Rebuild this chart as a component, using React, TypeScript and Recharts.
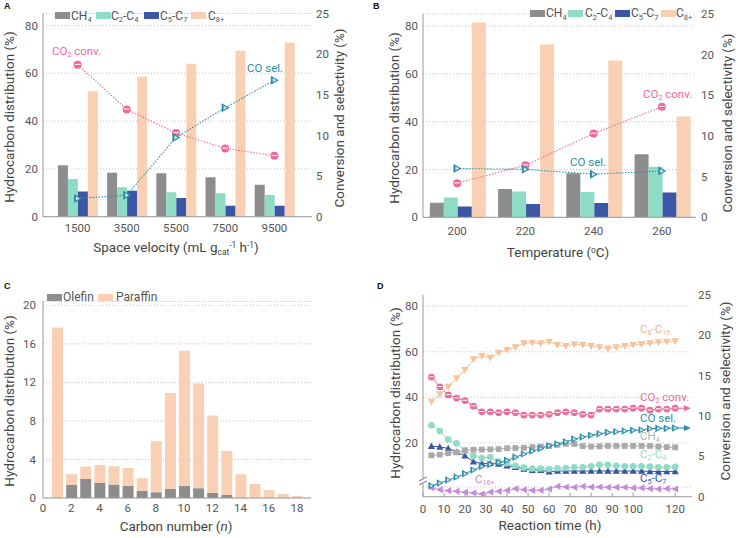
import React from "react";
import {
  ComposedChart,
  BarChart,
  Bar,
  Line,
  XAxis,
  YAxis,
  CartesianGrid,
  ReferenceLine,
} from "recharts";

const FONT = "Roboto, 'Noto Sans', Arial, sans-serif";
const TXT = "#555";
const TITLE = "#444";
const AXIS = "#9a9a9a";
const GRID = "#c4c4c4";

const GRAY = "#8d8d8d";
const MINT = "#8fdcc6";
const BLUE = "#3a56a5";
const PEACH = "#f9d0b3";
const PINK = "#ef6a9b";
const TEAL = "#2d8fa7";
const LIGHTGRAY = "#a9a9a9";
const PEACH_D = "#f8c29a";
const LILAC = "#c68ad9";

// A: space velocity
const svCats = ["1500", "3500", "5500", "7500", "9500"];
const svCH4 = [21.5, 18.4, 18.2, 16.5, 13.4];
const svC2C4 = [15.8, 12.3, 10.2, 9.8, 9.1];
const svC5C7 = [10.5, 10.9, 7.8, 4.6, 4.6];
const svC8 = [52.5, 58.5, 64.0, 69.4, 72.9];
const svConv = [18.7, 13.2, 10.3, 8.4, 7.5];
const svSel = [2.25, 2.65, 9.75, 13.4, 16.8];

// B: temperature
const tempCats = ["200", "220", "240", "260"];
const tempCH4 = [6.1, 11.8, 18.4, 26.4];
const tempC2C4 = [8.3, 10.8, 10.6, 21.1];
const tempC5C7 = [4.5, 5.6, 6.0, 10.4];
const tempC8 = [81.4, 72.2, 65.6, 42.1];
const tempConv = [4.2, 6.4, 10.3, 13.6];
const tempSel = [6.0, 5.9, 5.3, 5.7];

// C: carbon number distribution
const cN = [1, 2, 3, 4, 5, 6, 7, 8, 9, 10, 11, 12, 13, 14, 15, 16, 17, 18];
const cOlefin = [0, 1.35, 1.98, 1.56, 1.39, 1.25, 0.76, 0.6, 0.97, 1.25, 1.0, 0.52, 0.31, 0.05, 0, 0, 0, 0];
const cParaffin = [17.7, 1.11, 1.28, 1.87, 1.9, 1.87, 1.29, 5.3, 9.93, 14.05, 10.9, 8.04, 4.58, 2.41, 1.46, 0.83, 0.42, 0.2];
const cTicks = [0, 2, 4, 6, 8, 10, 12, 14, 16, 18];

// D: time on stream
const dTime = [4, 8, 12, 16, 20, 24, 28, 32, 36, 40, 44, 48, 52, 56, 60, 64, 68, 72, 76, 80, 84, 88, 92, 96, 100, 104, 108, 112, 116, 120];
const dConv = [14.8, 13.6, 12.6, 12.2, 11.9, 11.2, 10.5, 10.5, 10.4, 10.5, 10.4, 10.1, 10.1, 10.1, 10.2, 10.4, 10.5, 10.4, 10.2, 10.1, 10.85, 10.85, 10.85, 10.85, 10.95, 10.95, 10.7, 10.85, 10.85, 10.95];
const dSel = [1.35, 1.7, 2.06, 2.43, 2.85, 3.3, 3.75, 4.0, 4.25, 4.5, 4.9, 5.28, 5.65, 5.98, 6.3, 6.52, 6.8, 7.14, 7.38, 7.6, 7.8, 7.96, 8.04, 8.13, 8.21, 8.25, 8.42, 8.46, 8.46, 8.5];
const dC8C16 = [38.1, 41.4, 44.7, 48.4, 52.0, 56.7, 58.2, 57.4, 59.6, 60.8, 62.0, 63.7, 64.0, 63.7, 64.4, 63.0, 62.5, 63.3, 63.0, 62.5, 62.0, 61.4, 62.0, 62.5, 63.0, 63.4, 63.7, 64.2, 64.4, 64.7];
const dCH4 = [14.6, 14.9, 15.5, 15.9, 16.7, 17.0, 17.1, 17.2, 17.3, 17.7, 17.8, 17.9, 18.2, 18.4, 18.7, 19.2, 19.6, 19.6, 18.6, 18.4, 18.5, 18.7, 18.7, 18.7, 18.7, 18.7, 18.7, 18.4, 18.2, 18.1];
const dC2C4 = [27.8, 25.2, 21.5, 19.8, 16.8, 14.3, 13.4, 13.8, 11.8, 11.1, 10.0, 9.2, 8.8, 8.8, 8.6, 8.9, 9.0, 9.3, 9.3, 9.8, 10.4, 10.4, 10.0, 9.8, 9.8, 9.8, 9.6, 9.3, 9.3, 9.5];
const dC5C7 = [18.6, 18.3, 17.6, 16.0, 14.4, 11.8, 11.0, 11.0, 10.8, 10.1, 9.4, 8.6, 8.1, 8.1, 7.4, 7.7, 7.7, 7.7, 7.7, 7.7, 7.7, 7.7, 7.7, 7.7, 7.7, 7.7, 7.5, 7.5, 7.5, 7.5];
const dC16 = [0.9, 0.72, 0.62, 0.55, 0.45, 0.38, 0.28, 0.48, 0.55, 0.66, 0.83, 0.72, 0.66, 0.66, 0.79, 1.07, 1.0, 0.97, 1.07, 1.0, 1.0, 0.97, 0.97, 0.97, 0.9, 0.9, 0.83, 0.79, 0.83, 0.79];
const dTimeTicks = [0, 10, 20, 30, 40, 50, 60, 70, 80, 90, 100, 110, 120];
const dLeftVals = [0, 1, 20, 40, 60, 80];
const dGridVals = [1, 20, 40, 60, 80];
const rightTicks = [0, 5, 10, 15, 20, 25];

// broken left axis of D, mapped onto the 0-25 right-axis units
const D_BREAK = 1.95;
const tLeft = (v: number) => (v <= 1.5 ? v * 1.2 : 6.65 + (v - 20) * 0.282);

const tickStyle = { fill: TXT, fontSize: 11.5, fontFamily: FONT };

const convDot = (r: number) => (p: any) => {
  const { cx, cy, index } = p;
  if (cx == null || cy == null) return <g key={`cv${index}`} />;
  return (
    <g key={`cv${index}`}>
      <circle cx={cx} cy={cy} r={r} fill={PINK} />
      <line x1={cx - r * 0.7} x2={cx + r * 0.7} y1={cy - 0.3} y2={cy - 0.3} stroke="#fff" strokeWidth={1} />
    </g>
  );
};

const selDot = (r: number) => (p: any) => {
  const { cx, cy, index } = p;
  if (cx == null || cy == null) return <g key={`sl${index}`} />;
  const k = 0.45;
  return (
    <g key={`sl${index}`}>
      <polygon points={`${cx + r},${cy} ${cx - r * 0.8},${cy - r} ${cx - r * 0.8},${cy + r}`} fill={TEAL} />
      <polygon points={`${cx + r * k},${cy} ${cx - r * 0.8 * k},${cy - r * k} ${cx - r * 0.8 * k},${cy + r * k}`} fill="#cfe8ee" />
    </g>
  );
};

const shapeDot = (kind: string, color: string, r: number) => (p: any) => {
  const { cx, cy, index } = p;
  const key = `${kind}${color}${index}`;
  if (cx == null || cy == null) return <g key={key} />;
  if (kind === "circle") return <circle key={key} cx={cx} cy={cy} r={r} fill={color} />;
  if (kind === "square") return <rect key={key} x={cx - r} y={cy - r} width={r * 2} height={r * 2} fill={color} />;
  let pts = "";
  if (kind === "up") pts = `${cx},${cy - r} ${cx + r},${cy + r * 0.8} ${cx - r},${cy + r * 0.8}`;
  if (kind === "down") pts = `${cx},${cy + r} ${cx + r},${cy - r * 0.8} ${cx - r},${cy - r * 0.8}`;
  if (kind === "left") pts = `${cx - r},${cy} ${cx + r * 0.8},${cy - r} ${cx + r * 0.8},${cy + r}`;
  return <polygon key={key} points={pts} fill={color} />;
};

const arrowShape = (color: string) => (p: any) => {
  const { x1, y1, x2, y2 } = p;
  return (
    <g>
      <line x1={x1} y1={y1} x2={x2 - 4} y2={y2} stroke={color} strokeWidth={1.1} />
      <polygon points={`${x2},${y2} ${x2 - 7},${y2 - 3} ${x2 - 7},${y2 + 3}`} fill={color} />
    </g>
  );
};

function DLeftTick(props: any) {
  const { x, y, payload } = props;
  if (Math.abs(payload.value - D_BREAK) < 1e-6) {
    const ax = x + 5;
    return (
      <g>
        <rect x={ax - 3} y={y - 2.5} width={6} height={5} fill="#fff" />
        <line x1={ax - 4} y1={y} x2={ax + 4} y2={y - 4} stroke="#777" strokeWidth={1} />
        <line x1={ax - 4} y1={y + 4} x2={ax + 4} y2={y} stroke="#777" strokeWidth={1} />
      </g>
    );
  }
  const i = dLeftVals.findIndex((v) => Math.abs(tLeft(v) - payload.value) < 1e-6);
  return (
    <text x={x} y={y} dy="0.35em" textAnchor="end" fill={TXT} fontSize={11.5} fontFamily={FONT}>
      {i >= 0 ? dLeftVals[i] : ""}
    </text>
  );
}

function ProductChart(props: {
  rows: any[];
  width: number;
  height: number;
  top: number;
  bottom: number;
  leftW: number;
  rightW: number;
  pad: { left: number; right: number };
  xMargin: number;
  rMargin: number;
  leftMax: number;
}) {
  const { rows, width, height, top, bottom, leftW, rightW, pad, xMargin, rMargin, leftMax } = props;
  return (
    <ComposedChart
      width={width}
      height={height}
      data={rows}
      margin={{ top, right: 0, bottom: bottom - 30, left: 0 }}
      barGap={0}
      barCategoryGap="10%"
    >
      <CartesianGrid yAxisId="l" vertical={false} stroke={GRID} strokeDasharray="1 2" />
      <XAxis
        dataKey="cat"
        height={30}
        padding={pad}
        axisLine={{ stroke: AXIS }}
        tickLine={false}
        tickSize={0}
        tickMargin={xMargin}
        tick={tickStyle}
      />
      <YAxis
        yAxisId="l"
        domain={[0, leftMax]}
        allowDataOverflow
        ticks={[0, 20, 40, 60, 80]}
        width={leftW}
        axisLine={{ stroke: AXIS }}
        tickLine={false}
        tickSize={0}
        tickMargin={5}
        tick={tickStyle}
      />
      <YAxis
        yAxisId="r"
        orientation="right"
        domain={[0, 25]}
        allowDataOverflow
        ticks={rightTicks}
        width={rightW}
        axisLine={false}
        tickLine={false}
        tickSize={0}
        tickMargin={rMargin}
        tick={tickStyle}
      />
      <Bar yAxisId="l" dataKey="ch4" fill={GRAY} isAnimationActive={false} />
      <Bar yAxisId="l" dataKey="c24" fill={MINT} isAnimationActive={false} />
      <Bar yAxisId="l" dataKey="c57" fill={BLUE} isAnimationActive={false} />
      <Bar yAxisId="l" dataKey="c8" fill={PEACH} isAnimationActive={false} />
      <Line
        yAxisId="r"
        dataKey="conv"
        stroke={PINK}
        strokeWidth={1.1}
        strokeDasharray="1.5 1.5"
        dot={convDot(4)}
        activeDot={false}
        isAnimationActive={false}
      />
      <Line
        yAxisId="r"
        dataKey="sel"
        stroke={TEAL}
        strokeWidth={1.1}
        strokeDasharray="1.5 1.5"
        dot={selDot(4.5)}
        activeDot={false}
        isAnimationActive={false}
      />
    </ComposedChart>
  );
}

function ChartC() {
  const rows = cN.map((n, i) => ({ n, ole: cOlefin[i], par: cParaffin[i] }));
  return (
    <BarChart width={369} height={270} data={rows} margin={{ top: 33.5, right: 58, bottom: 15, left: 0 }}>
      <CartesianGrid vertical={false} stroke={GRID} strokeDasharray="1 2" />
      <XAxis
        type="number"
        dataKey="n"
        domain={[0, 19]}
        allowDataOverflow
        ticks={cTicks}
        height={25}
        axisLine={{ stroke: AXIS }}
        tickLine={false}
        tickSize={0}
        tickMargin={6}
        tick={tickStyle}
      />
      <YAxis
        domain={[0, 20.4]}
        allowDataOverflow
        ticks={[0, 4, 8, 12, 16, 20]}
        width={43}
        axisLine={{ stroke: AXIS }}
        tickLine={false}
        tickSize={0}
        tickMargin={7}
        tick={tickStyle}
      />
      <Bar dataKey="ole" stackId="a" fill={GRAY} barSize={11} isAnimationActive={false} />
      <Bar dataKey="par" stackId="a" fill={PEACH} barSize={11} isAnimationActive={false} />
    </BarChart>
  );
}

function ChartD() {
  const rows = dTime.map((t, i) => ({
    t,
    c8: tLeft(dC8C16[i]),
    ch4: tLeft(dCH4[i]),
    c24: tLeft(dC2C4[i]),
    c57: tLeft(dC5C7[i]),
    c16: tLeft(dC16[i]),
    conv: dConv[i],
    sel: dSel[i],
  }));
  const last = dTime.length - 1;
  const leftTicks = [...dLeftVals.map(tLeft), D_BREAK].sort((a, b) => a - b);
  return (
    <ComposedChart width={370} height={270} data={rows} margin={{ top: 26.7, right: 0, bottom: 16.3, left: 0 }}>
      {dGridVals.map((v) => (
        <ReferenceLine key={v} yAxisId="l" y={tLeft(v)} stroke={GRID} strokeDasharray="1 2" />
      ))}
      <XAxis
        type="number"
        dataKey="t"
        domain={[0, 128]}
        allowDataOverflow
        ticks={dTimeTicks}
        height={25}
        axisLine={{ stroke: AXIS }}
        tickLine={{ stroke: AXIS }}
        tickSize={-4}
        tickMargin={12}
        tick={tickStyle}
      />
      <YAxis
        yAxisId="l"
        domain={[0, 25]}
        allowDataOverflow
        ticks={leftTicks}
        width={55}
        axisLine={{ stroke: AXIS }}
        tickLine={false}
        tickSize={0}
        tickMargin={5}
        tick={(p: any) => <DLeftTick {...p} />}
      />
      <YAxis
        yAxisId="r"
        orientation="right"
        domain={[0, 25]}
        allowDataOverflow
        ticks={rightTicks}
        width={46}
        axisLine={false}
        tickLine={false}
        tickSize={0}
        tickMargin={6}
        tick={tickStyle}
      />
      <Line yAxisId="l" dataKey="c16" stroke={LILAC} strokeWidth={1} dot={shapeDot("left", LILAC, 3.6)} activeDot={false} isAnimationActive={false} />
      <Line yAxisId="l" dataKey="c57" stroke={BLUE} strokeWidth={1} dot={shapeDot("up", BLUE, 3.6)} activeDot={false} isAnimationActive={false} />
      <Line yAxisId="l" dataKey="c24" stroke={MINT} strokeWidth={1} dot={shapeDot("circle", MINT, 3.3)} activeDot={false} isAnimationActive={false} />
      <Line yAxisId="l" dataKey="ch4" stroke={LIGHTGRAY} strokeWidth={1} dot={shapeDot("square", LIGHTGRAY, 2.9)} activeDot={false} isAnimationActive={false} />
      <Line yAxisId="r" dataKey="sel" stroke={TEAL} strokeWidth={1} dot={selDot(3.8)} activeDot={false} isAnimationActive={false} />
      <Line yAxisId="r" dataKey="conv" stroke={PINK} strokeWidth={1} dot={convDot(3.4)} activeDot={false} isAnimationActive={false} />
      <Line yAxisId="l" dataKey="c8" stroke={PEACH_D} strokeWidth={1} dot={shapeDot("down", PEACH_D, 3.8)} activeDot={false} isAnimationActive={false} />
      <ReferenceLine
        yAxisId="r"
        segment={[
          { x: dTime[last], y: dConv[last] },
          { x: 127.5, y: dConv[last] },
        ]}
        shape={arrowShape(PINK)}
      />
      <ReferenceLine
        yAxisId="r"
        segment={[
          { x: dTime[last], y: dSel[last] },
          { x: 127.5, y: dSel[last] },
        ]}
        shape={arrowShape(TEAL)}
      />
    </ComposedChart>
  );
}

const Sub = ({ c }: { c: string }) => (
  <span style={{ fontSize: "0.62em", position: "relative", top: "0.3em" }}>{c}</span>
);
const Sup = ({ c }: { c: string }) => (
  <span style={{ fontSize: "0.62em", position: "relative", top: "-0.45em" }}>{c}</span>
);

function T({ x, y, c = TXT, s = 11.5, w = 400, children }: any) {
  return (
    <div
      style={{
        position: "absolute",
        left: x,
        top: y,
        transform: "translateY(-50%)",
        color: c,
        fontSize: s,
        fontWeight: w,
        fontFamily: FONT,
        whiteSpace: "nowrap",
        lineHeight: 1,
      }}
    >
      {children}
    </div>
  );
}

function Title({ x, y, rot, children }: any) {
  return (
    <div
      style={{
        position: "absolute",
        left: x,
        top: y,
        transform: `translate(-50%, -50%)${rot ? " rotate(-90deg)" : ""}`,
        color: TITLE,
        fontSize: 13.5,
        fontFamily: FONT,
        whiteSpace: "nowrap",
        lineHeight: 1,
      }}
    >
      {children}
    </div>
  );
}

function Sw({ x, y, color }: any) {
  return <div style={{ position: "absolute", left: x, top: y - 3.5, width: 15, height: 7, background: color }} />;
}

const CH4 = () => (<>CH<Sub c="4" /></>);
const C24 = () => (<>C<Sub c="2" />-C<Sub c="4" /></>);
const C57 = () => (<>C<Sub c="5" />-C<Sub c="7" /></>);
const C8p = () => (<>C<Sub c="8+" /></>);

export default function App() {
  const rowsA = svCats.map((c, i) => ({
    cat: c, ch4: svCH4[i], c24: svC2C4[i], c57: svC5C7[i], c8: svC8[i], conv: svConv[i], sel: svSel[i],
  }));
  const rowsB = tempCats.map((c, i) => ({
    cat: c, ch4: tempCH4[i], c24: tempC2C4[i], c57: tempC5C7[i], c8: tempC8[i], conv: tempConv[i], sel: tempSel[i],
  }));
  const panelLetter = { fontFamily: "Arial, 'Liberation Sans', sans-serif", fontWeight: 700 };
  return (
    <div style={{ position: "absolute", left: 0, top: 0, width: 738, height: 538, background: "#fff", overflow: "hidden", fontFamily: FONT }}>
      <div style={{ position: "absolute", left: 0, top: 0 }}>
        <ProductChart rows={rowsA} width={369} height={268} top={13.5} bottom={51.3} leftW={43} rightW={57}
          pad={{ left: 10, right: 13 }} xMargin={7} rMargin={4} leftMax={85} />
      </div>
      <div style={{ position: "absolute", left: 368, top: 0 }}>
        <ProductChart rows={rowsB} width={370} height={268} top={14} bottom={50.7} leftW={55} rightW={42}
          pad={{ left: 0, right: 0 }} xMargin={9.5} rMargin={5} leftMax={85} />
      </div>
      <div style={{ position: "absolute", left: 0, top: 268 }}>
        <ChartC />
      </div>
      <div style={{ position: "absolute", left: 368, top: 268 }}>
        <ChartD />
      </div>

      {/* panel letters */}
      <T x={4} y={6} c="#111" s={9} w={700}><span style={panelLetter}>A</span></T>
      <T x={373} y={6} c="#111" s={9} w={700}><span style={panelLetter}>B</span></T>
      <T x={4} y={286} c="#111" s={9} w={700}><span style={panelLetter}>C</span></T>
      <T x={377} y={286} c="#111" s={9} w={700}><span style={panelLetter}>D</span></T>

      {/* A legend + notes */}
      <Sw x={55} y={15.7} color={GRAY} /><T x={71} y={15.7} s={12}><CH4 /></T>
      <Sw x={96} y={15.7} color={MINT} /><T x={111} y={15.7} s={12}><C24 /></T>
      <Sw x={144} y={15.7} color={BLUE} /><T x={160} y={15.7} s={12}><C57 /></T>
      <Sw x={191} y={15.7} color={PEACH} /><T x={208} y={15.7} s={12}><C8p /></T>
      <T x={52} y={52} c={PINK} s={11.5}>CO<Sub c="2" /> conv.</T>
      <T x={247} y={69} c={TEAL} s={11.5}>CO sel.</T>
      <Title x={10} y={117} rot>Hydrocarbon distribution (%)</Title>
      <Title x={340} y={118} rot>Conversion and selectivity (%)</Title>
      <Title x={176} y={248}>Space velocity (mL g<Sub c="cat" /><Sup c="-1" /> h<Sup c="-1" />)</Title>

      {/* B legend + notes */}
      <Sw x={530} y={13.3} color={GRAY} /><T x={546} y={13.3} s={12}><CH4 /></T>
      <Sw x={568} y={13.3} color={MINT} /><T x={585} y={13.3} s={12}><C24 /></T>
      <Sw x={615} y={13.3} color={BLUE} /><T x={631} y={13.3} s={12}><C57 /></T>
      <Sw x={661} y={13.3} color={PEACH} /><T x={676} y={13.3} s={12}><C8p /></T>
      <T x={643} y={95} c={PINK} s={11.5}>CO<Sub c="2" /> conv.</T>
      <T x={570} y={163} c={TEAL} s={11.5}>CO sel.</T>
      <Title x={395} y={118} rot>Hydrocarbon distribution (%)</Title>
      <Title x={728} y={123} rot>Conversion and selectivity (%)</Title>
      <Title x={558} y={253}>Temperature (<Sup c="o" />C)</Title>

      {/* C legend + titles */}
      <Sw x={47} y={297} color={GRAY} /><T x={63} y={297} s={12}>Olefin</T>
      <Sw x={98} y={297} color={PEACH} /><T x={116} y={297} s={12}>Paraffin</T>
      <Title x={10} y={401} rot>Hydrocarbon distribution (%)</Title>
      <Title x={176} y={527}>Carbon number (<i>n</i>)</Title>

      {/* D notes + titles */}
      <T x={640} y={330} c="#f3b488" s={11.5}>C<Sub c="8" />-C<Sub c="16" /></T>
      <T x={640} y={398} c={PINK} s={11.5}>CO<Sub c="2" /> conv.</T>
      <T x={640} y={419} c={TEAL} s={11.5}>CO sel.</T>
      <T x={640} y={437} c="#b3b3b3" s={11.5}><CH4 /></T>
      <T x={640} y={455} c={MINT} s={11.5}><C24 /></T>
      <T x={640} y={479} c={BLUE} s={11.5}><C57 /></T>
      <T x={475} y={480} c={LILAC} s={11.5}>C<Sub c="16+" /></T>
      <Title x={396} y={393} rot>Hydrocarbon distribution (%)</Title>
      <Title x={726} y={391} rot>Conversion and selectivity (%)</Title>
      <Title x={550} y={526}>Reaction time (h)</Title>
    </div>
  );
}
